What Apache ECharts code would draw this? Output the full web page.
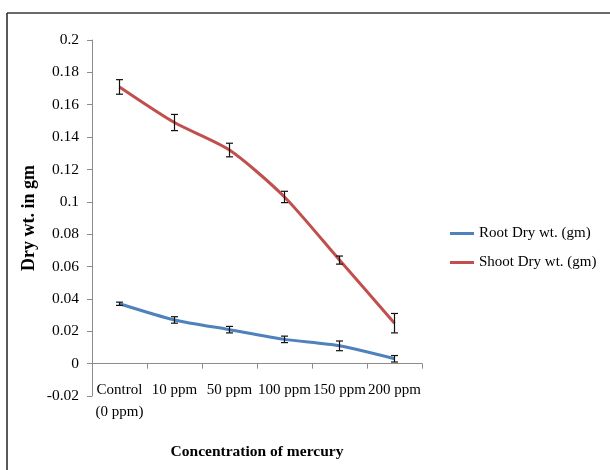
<!DOCTYPE html>
<html>
<head>
<meta charset="utf-8">
<script src="https://cdn.jsdelivr.net/npm/echarts@6/dist/echarts.min.js"></script>
<style>html,body{margin:0;padding:0;background:#fff}#c{width:610px;height:470px}</style>
</head>
<body>
<div id="c"></div>
<script>
var categories = ['Control\n(0 ppm)', '10 ppm', '50 ppm', '100 ppm', '150 ppm', '200 ppm'];
var rootValues = [0.037, 0.027, 0.021, 0.015, 0.011, 0.003];
var rootErrors = [0.001, 0.002, 0.002, 0.002, 0.003, 0.002];
var shootValues = [0.171, 0.149, 0.132, 0.103, 0.064, 0.025];
var shootErrors = [0.0045, 0.005, 0.0042, 0.0035, 0.0025, 0.006];
var yTicks = {min: -0.02, max: 0.2, interval: 0.02};

function errData(vals, errs) {
  return vals.map(function (v, i) { return [i, v - errs[i], v + errs[i]]; });
}
function errRender(params, api) {
  var x = api.value(0);
  var lo = api.coord([x, api.value(1)]);
  var hi = api.coord([x, api.value(2)]);
  var w = 3.5;
  var st = {stroke: '#111', lineWidth: 1.2};
  return {type: 'group', children: [
    {type: 'line', shape: {x1: lo[0], y1: lo[1], x2: hi[0], y2: hi[1]}, style: st},
    {type: 'line', shape: {x1: lo[0] - w, y1: lo[1], x2: lo[0] + w, y2: lo[1]}, style: st},
    {type: 'line', shape: {x1: hi[0] - w, y1: hi[1], x2: hi[0] + w, y2: hi[1]}, style: st}
  ]};
}

var font = 'Liberation Serif';
var chart = echarts.init(document.getElementById('c'));
chart.setOption({
  animation: false,
  textStyle: {fontFamily: font},
  grid: {left: 92, top: 40, right: 188, bottom: 74, containLabel: false, outerBoundsMode: 'none'},
  legend: {
    orient: 'vertical', left: 450, top: 226, itemGap: 14, padding: 0,
    icon: 'rect', itemWidth: 24, itemHeight: 3,
    textStyle: {fontFamily: font, fontSize: 15, color: '#000'},
    data: ['Root Dry wt. (gm)', 'Shoot Dry wt. (gm)']
  },
  xAxis: {
    type: 'category', data: categories, boundaryGap: true,
    name: 'Concentration of mercury', nameLocation: 'middle', nameGap: 48,
    nameTextStyle: {fontFamily: font, fontSize: 15.5, fontWeight: 'bold', color: '#000'},
    axisLine: {onZero: true, lineStyle: {color: '#8c8c8c', width: 1}},
    axisTick: {show: true, length: 5, lineStyle: {color: '#8c8c8c'}},
    axisLabel: {margin: -17, fontFamily: font, fontSize: 15, color: '#000', lineHeight: 22, interval: 0},
    splitLine: {show: false}
  },
  yAxis: {
    type: 'value', min: yTicks.min, max: yTicks.max, interval: yTicks.interval,
    name: 'Dry wt. in gm', nameLocation: 'middle', nameGap: 54, nameMoveOverlap: false,
    nameTextStyle: {fontFamily: font, fontSize: 18, fontWeight: 'bold', color: '#000'},
    axisLine: {show: true, lineStyle: {color: '#8c8c8c', width: 1}},
    axisTick: {show: true, length: 5, lineStyle: {color: '#8c8c8c'}},
    axisLabel: {margin: 13, fontFamily: font, fontSize: 15.5, color: '#000'},
    splitLine: {show: false}
  },
  graphic: [
    {type: 'line', shape: {x1: 7, y1: 13, x2: 610, y2: 13}, style: {stroke: '#3a3a3a', lineWidth: 1.5}},
    {type: 'line', shape: {x1: 7, y1: 13, x2: 7, y2: 470}, style: {stroke: '#222', lineWidth: 1.5}}
  ],
  series: [
    {name: 'Root Dry wt. (gm)', type: 'line', data: rootValues, smooth: 0.25,
     showSymbol: false, symbol: 'none', lineStyle: {color: '#4F81BD', width: 3}, itemStyle: {color: '#4F81BD'}},
    {name: 'Shoot Dry wt. (gm)', type: 'line', data: shootValues, smooth: 0.25,
     showSymbol: false, symbol: 'none', lineStyle: {color: '#C0504D', width: 3}, itemStyle: {color: '#C0504D'}},
    {type: 'custom', renderItem: errRender, data: errData(rootValues, rootErrors), encode: {x: 0, y: [1, 2]}, z: 5},
    {type: 'custom', renderItem: errRender, data: errData(shootValues, shootErrors), encode: {x: 0, y: [1, 2]}, z: 5}
  ]
});
</script>
</body>
</html>
